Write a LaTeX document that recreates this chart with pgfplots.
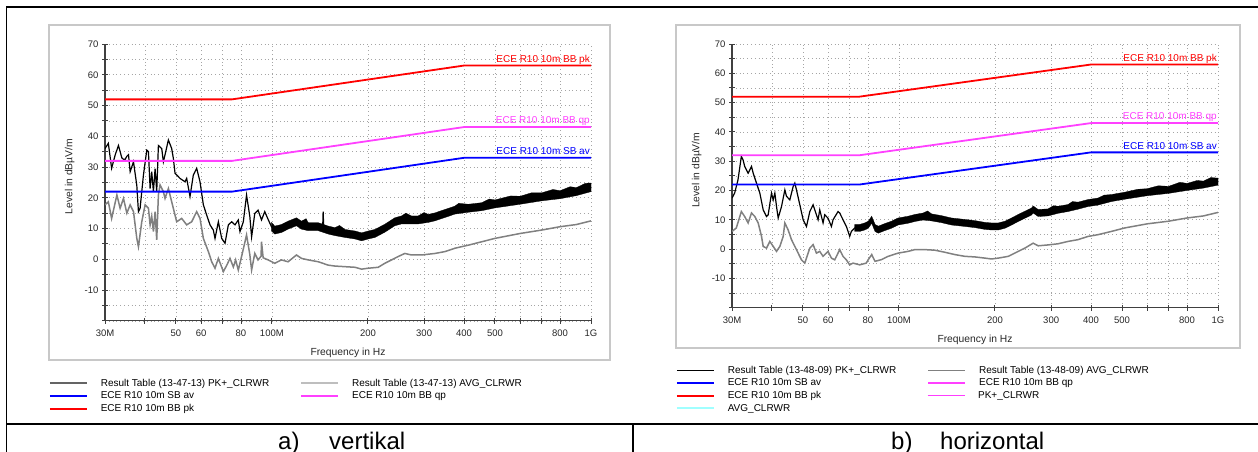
\documentclass[border=0pt]{standalone}
\usepackage{fontspec}
\setmainfont{Liberation Sans}
\usepackage{pgfplots}
\usepackage{pgfplotstable}
\pgfplotsset{compat=1.18}
\definecolor{pkred}{RGB}{255,0,0}
\definecolor{qpmag}{RGB}{255,64,255}
\definecolor{thinmag}{RGB}{255,60,255}
\definecolor{avblue}{RGB}{0,0,255}
\definecolor{trgray}{RGB}{128,128,128}
\definecolor{axgray}{RGB}{64,64,64}
\definecolor{gridgray}{RGB}{165,165,165}
\definecolor{framegray}{RGB}{200,200,200}
\definecolor{avgcyan}{RGB}{160,255,255}
\definecolor{leggrayA}{RGB}{100,100,100}
\definecolor{leggrayB}{RGB}{190,190,190}

% ---------- limit lines ----------
\pgfplotstableread{
f dB
30 52
75 52
400 63
1000 63
}\limpk
\pgfplotstableread{
f dB
30 32
75 32
400 43
1000 43
}\limqp
\pgfplotstableread{
f dB
30 22
75 22
400 33
1000 33
}\limav

% ---------- a) vertikal ----------
\pgfplotstableread{
f dB
30.0 36.0
30.73 37.7
31.47 29.6
32.3 34.0
33.06 37.0
33.87 33.0
34.28 32.5
34.70 32.5
35.12 33.5
35.54 34.0
35.97 28.5
36.85 31.7
37.74 24.0
38.19 15.5
38.65 16.6
39.59 27.4
40.55 35.5
41.04 35.0
41.54 23.0
42.03 28.5
42.54 22.0
43.06 29.5
43.57 22.0
44.10 37.0
45.17 36.0
45.71 31.7
46.26 34.0
47.39 38.8
48.54 36.0
49.12 32.8
49.72 28.0
51.54 26.3
53.44 25.2
54.08 26.3
55.40 20.4
56.74 27.4
58.13 29.6
59.54 25.2
61.00 17.7
62.48 14.4
64.00 11.2
65.56 9.5
66.35 6.8
67.97 12.2
69.63 6.8
71.32 5.2
73.05 11.2
74.83 12.2
76.64 11.2
78.50 12.8
79.45 9.0
81.38 12.2
83.30 20.9
85.30 13.9
86.40 7.3
88.40 14.9
90.50 16.0
92.80 12.8
95.00 15.5
97.30 13.0
99.70 10.6
102.1 9.5
107.1 10.0
112.4 11.1
119.4 12.2
123.8 11.1
130.0 10.6
139.7 10.6
144.3 10.6
144.8 15.5
145.3 10.6
150.2 9.5
157.6 9.0
169.4 8.4
182.2 7.9
191.1 7.3
200.4 7.9
210.3 8.4
225.9 10.1
242.8 12.2
254.8 12.8
273.8 12.8
287.4 12.8
309.2 13.3
324.4 13.8
348.6 14.9
374.7 16.0
412.7 16.6
454.4 17.1
500 18.0
600 19.2
700 20.3
800 21.0
900 22.0
1000 23.3
}\pkA
\pgfplotstableread{
f dB
99.7 12.0
102.1 10.8
107.1 11.3
112.4 12.4
119.4 13.5
123.8 12.4
128.0 13.2
130.0 11.9
139.7 11.9
150.2 10.8
157.6 10.3
163.0 11.0
169.4 9.7
182.2 9.2
191.1 8.6
200.4 9.2
210.3 9.7
225.9 11.4
242.8 13.5
254.8 14.1
263.0 15.0
273.8 14.1
287.4 14.1
300.0 15.2
309.2 14.6
324.4 15.1
348.6 16.2
374.7 17.3
385.0 18.2
412.7 17.9
454.4 18.4
480.0 19.6
500 19.3
560 20.6
600 20.5
650 21.6
700 21.6
760 22.7
800 22.3
860 23.6
900 23.3
960 24.7
1000 24.8
1000 22.0
900 20.7
800 19.7
700 19.0
600 17.9
500 16.7
454.4 15.8
412.7 15.3
374.7 14.7
348.6 13.6
324.4 12.5
309.2 12.0
287.4 11.5
273.8 11.5
254.8 11.5
242.8 10.9
225.9 8.8
210.3 7.1
200.4 6.6
191.1 6.0
182.2 6.6
169.4 7.1
157.6 7.7
150.2 8.2
139.7 9.3
130.0 9.3
123.8 9.8
119.4 10.9
112.4 9.8
107.1 8.7
102.1 8.2
99.7 9.2
}\bandA
\pgfplotstableread{
f dB
30.0 17.7
30.73 18.7
31.47 13.3
32.69 20.9
33.46 16.6
34.28 19.8
35.12 15.0
35.97 17.7
36.85 15.5
37.74 6.8
38.19 4.1
39.12 12.2
40.07 17.7
41.04 16.6
41.54 11.2
42.03 14.0
42.54 9.0
43.06 15.5
43.57 6.3
44.10 20.9
44.63 24.2
45.71 22.0
46.26 19.8
47.39 23.0
48.54 18.7
50.32 12.2
52.17 13.3
54.08 11.2
56.07 12.2
58.13 15.5
59.54 13.3
61.0 6.8
63.24 2.5
64.78 -0.8
66.35 -2.9
67.97 0.3
70.47 -4.0
72.18 -2.0
73.93 0.3
75.73 -2.5
77.0 -0.2
78.5 -3.5
80.4 1.0
83.3 7.9
85.3 1.5
86.4 -3.5
88.4 1.9
90.5 -0.2
92.5 1.0
92.8 5.7
93.9 0.5
97.3 -0.2
102.1 -1.3
107.1 -0.2
112.4 -0.8
119.4 1.4
123.8 0.3
130.0 -0.2
139.7 -0.8
150.2 -1.9
157.6 -2.2
169.4 -2.4
182.2 -2.6
191.1 -3.2
200.4 -2.9
215.4 -2.6
225.9 -1.3
237.1 -0.2
248.7 0.9
261.0 1.9
273.8 1.4
294.4 1.4
324.4 1.9
348.6 2.5
374.7 3.6
412.7 4.6
454.4 5.7
500 6.8
600 8.4
700 9.5
800 10.6
900 11.3
1000 12.5
}\avA

% ---------- b) horizontal ----------
\pgfplotstableread{
f dB
30.0 17.4
30.58 19.1
31.32 23.6
32.09 31.6
32.48 30.5
32.87 28.2
33.70 25.9
34.11 27.0
34.53 28.2
34.95 25.9
35.80 22.5
36.67 19.1
37.57 13.4
38.48 11.1
38.95 11.7
39.90 19.1
40.38 16.8
40.87 19.1
41.36 14.5
41.86 10.6
42.88 14.5
43.92 20.2
44.45 18.0
45.53 16.8
46.64 21.4
47.20 22.5
47.77 20.2
48.93 15.1
50.12 10.0
51.34 7.7
52.59 12.8
53.86 15.1
54.51 13.4
55.83 10.0
56.50 13.4
57.87 8.9
58.57 11.7
60.0 10.5
61.46 7.7
62.20 10.0
64.48 12.8
65.26 12.3
66.84 10.0
68.47 7.7
70.13 4.3
70.98 6.0
72.70 7.2
75.36 7.2
78.12 7.7
80.2 8.3
82.2 10.0
84.2 7.2
86.2 6.6
90.4 7.5
94.8 8.3
99.4 9.4
106.9 10.0
112.2 10.6
119.1 11.1
126.6 10.8
136.0 10.2
146.2 9.4
161.1 8.9
173.2 8.5
186.0 7.9
195.2 7.7
204.8 7.7
215.0 8.3
225.5 9.4
236.6 10.6
248.1 11.7
260.4 12.8
263.5 13.5
273.2 12.3
293.4 12.5
315.6 13.4
339.0 14.0
364.2 14.8
391.4 15.7
420.5 16.2
463.0 17.4
510 18.2
600 19.4
700 20.2
800 21.2
900 22.0
1000 23.0
}\pkB
\pgfplotstableread{
f dB
72.70 8.4
75.36 8.4
78.12 8.9
80.2 9.5
82.2 11.2
84.2 8.4
86.2 7.8
90.4 8.7
94.8 9.5
99.4 10.6
106.9 11.2
112.2 11.8
119.1 12.3
123.0 13.0
126.6 12.0
136.0 11.4
146.2 10.6
161.1 10.1
173.2 9.7
186.0 9.1
195.2 8.9
204.8 8.9
215.0 9.5
225.5 10.6
236.6 11.8
248.1 12.9
260.4 14.0
263.5 14.7
273.2 13.5
293.4 13.7
305.0 14.8
315.6 14.6
339.0 15.2
350.0 16.2
364.2 16.0
391.4 16.9
420.5 17.4
440.0 18.4
463.0 18.6
510 19.4
560 20.4
600 20.6
650 21.6
700 21.4
760 22.8
800 22.4
860 23.4
900 23.2
950 24.4
1000 24.2
1000 21.8
900 20.8
800 20.0
700 19.0
600 18.2
510 17.0
463.0 16.2
420.5 15.0
391.4 14.5
364.2 13.6
339.0 12.8
315.6 12.2
293.4 11.3
273.2 11.1
263.5 12.3
260.4 11.6
248.1 10.5
236.6 9.4
225.5 8.2
215.0 7.1
204.8 6.5
195.2 6.5
186.0 6.7
173.2 7.3
161.1 7.7
146.2 8.2
136.0 9.0
126.6 9.6
119.1 9.9
112.2 9.4
106.9 8.8
99.4 8.2
94.8 7.1
90.4 6.3
86.2 5.4
84.2 6.0
82.2 8.8
80.2 7.1
78.12 6.5
75.36 6.0
72.70 6.0
}\bandB
\pgfplotstableread{
f dB
30.0 6.0
30.95 7.2
32.09 12.8
32.87 11.1
33.70 8.9
34.53 12.3
35.37 11.1
36.24 8.9
37.12 4.3
37.57 0.9
38.48 0.3
39.42 2.6
40.38 0.9
41.36 -0.8
42.37 0.9
43.40 4.3
43.92 8.9
44.99 6.5
46.08 3.2
47.20 0.9
48.35 -1.4
49.52 -3.7
50.73 -4.8
52.59 0.3
53.86 1.5
55.17 -1.4
56.50 -0.8
57.87 -2.5
60.0 -0.8
61.46 -3.1
62.95 -3.7
65.26 -0.2
66.84 -2.5
68.47 -3.7
70.13 -5.4
71.83 -4.8
75.36 -5.4
79.06 -4.8
80.2 -3.6
82.2 -1.9
84.2 -4.2
88.3 -3.6
92.5 -2.5
99.4 -1.4
106.9 -0.8
112.2 -0.2
120.6 -0.2
129.7 -0.4
139.3 -1.1
149.8 -1.9
161.1 -2.5
173.2 -2.7
186.0 -3.1
195.2 -3.4
204.8 -3.1
220.2 -2.5
236.6 -0.8
248.1 0.3
263.5 2.0
273.2 1.1
293.4 1.4
315.6 1.8
339.0 2.6
364.2 3.2
391.4 4.3
420.5 4.9
463.0 6.0
510 7.2
600 8.6
700 9.5
800 10.6
900 11.3
1000 12.5
}\avB

\tikzset{
  limlab/.style={anchor=south east, inner sep=1pt, text height=7.5pt, text depth=2pt,
    font=\fontsize{10}{11}\selectfont},
}
\pgfplotsset{
  legbase/.style={
    legend cell align=left,
    legend image code/.code={\draw[##1] (0pt,0pt) -- (37pt,0pt);},
    legend style={anchor=north west, draw=none, fill=none, inner sep=0pt, outer sep=0pt,
      font=\fontsize{10}{11}\selectfont, row sep=3.2pt,
      nodes={inner sep=0pt, text height=7.5pt, text depth=2pt},
      /tikz/every odd column/.append style={column sep=13pt},
      /tikz/every even column/.append style={column sep=31pt}},
  },
  emc/.style={
    scale only axis, width=486pt,
    xmin=30, xmax=1000, ymin=-20, ymax=70,
    axis lines=left,
    axis line style={-, draw=axgray, line width=1.1pt},
    xtick={30,40,50,60,70,80,100,200,300,400,500,600,700,800,1000},
    xticklabels={30M,,50,60,,80,100M,200,300,400,500,,,800,1G},
    minor xtick={},
    ytick={-20,-10,0,10,20,30,40,50,60,70},
    yticklabels={,-10,0,10,20,30,40,50,60,70},
    minor ytick={-15,-5,5,15,25,35,45,55,65},
    tick align=center, major tick length=6pt, minor tick length=6pt,
    every tick/.style={draw=axgray, line width=0.9pt},
    grid=both,
    major grid style={draw=gridgray, line width=0.6pt, dash pattern=on 0.8pt off 3pt},
    minor grid style={draw=gridgray, line width=0.6pt, dash pattern=on 0.8pt off 3pt},
    tick label style={font=\fontsize{9.5}{10}\selectfont, text=black!85},
    xticklabel style={yshift=-3pt},
    xlabel={Frequency in Hz},
    ylabel={Level in dBµV/m},
    label style={font=\fontsize{10.3}{12}\selectfont, text=black!85},
    xlabel style={at={(rel axis cs:0.5,0)}, anchor=center, yshift=-32pt},
    ylabel style={at={(rel axis cs:0,0.521)}, anchor=south, yshift=27pt},
    legend columns=2,
    legbase,
  },
  hiddenleg/.style={hide axis, scale only axis, width=486pt, height=263.6pt,
    xmin=0, xmax=1, ymin=0, ymax=1, legbase, legend columns=1},
}

\begin{document}
\begin{tikzpicture}
\useasboundingbox (0pt,0pt) rectangle (1258pt,-452pt);
% table frame
\draw[line width=1.5pt] (6pt,-7pt) -- (1258pt,-7pt);
\draw[line width=1.5pt] (6.5pt,-7pt) -- (6.5pt,-452pt);
\draw[line width=1.3pt] (6pt,-424pt) -- (1258pt,-424pt);
\draw[line width=1.3pt] (633pt,-424pt) -- (633pt,-452pt);
% chart frames
\draw[framegray, line width=1.5pt] (49pt,-25pt) rectangle (610pt,-360pt);
\draw[framegray, line width=1.5pt] (676pt,-25pt) rectangle (1240pt,-348pt);

% ---------------- a) vertikal ----------------
\begin{axis}[xmode=log, emc, height=276.8pt, at={(105pt,-320.8pt)}, anchor=south west,
  legend style={at={(-0.1152,-0.2085)}}]
\addplot[trgray, line width=1.5pt, forget plot] table[x=f,y=dB] {\avA};
\addplot[black, line width=1.2pt, forget plot] table[x=f,y=dB] {\pkA};
\addplot[black, fill=black, line width=0.3pt, forget plot] table[x=f,y=dB] {\bandA} -- cycle;
\addplot[avblue, line width=1.8pt, forget plot] table[x=f,y=dB] {\limav};
\addplot[qpmag, line width=1.8pt, forget plot] table[x=f,y=dB] {\limqp};
\addplot[pkred, line width=1.8pt, forget plot] table[x=f,y=dB] {\limpk};
\node[limlab, text=pkred] at (axis cs:1000,63) {ECE R10 10m BB pk};
\node[limlab, text=qpmag] at (axis cs:1000,43) {ECE R10 10m BB qp};
\node[limlab, text=avblue] at (axis cs:1000,33) {ECE R10 10m SB av};
\addlegendimage{leggrayA, line width=1.8pt}
\addlegendentry{Result Table (13-47-13) PK+\_CLRWR}
\addlegendimage{leggrayB, line width=1.8pt}
\addlegendentry{Result Table (13-47-13) AVG\_CLRWR}
\addlegendimage{avblue, line width=1.8pt}
\addlegendentry{ECE R10 10m SB av}
\addlegendimage{qpmag, line width=1.8pt}
\addlegendentry{ECE R10 10m BB qp}
\addlegendimage{pkred, line width=1.8pt}
\addlegendentry{ECE R10 10m BB pk}
\end{axis}

% ---------------- b) horizontal ----------------
\begin{axis}[xmode=log, emc, height=263.6pt, at={(732pt,-307.6pt)}, anchor=south west,
  legend style={at={(-0.1152,-0.2197)}}]
\addplot[trgray, line width=1.5pt, forget plot] table[x=f,y=dB] {\avB};
\addplot[black, line width=1.2pt, forget plot] table[x=f,y=dB] {\pkB};
\addplot[black, fill=black, line width=0.3pt, forget plot] table[x=f,y=dB] {\bandB} -- cycle;
\addplot[avblue, line width=1.8pt, forget plot] table[x=f,y=dB] {\limav};
\addplot[qpmag, line width=1.8pt, forget plot] table[x=f,y=dB] {\limqp};
\addplot[pkred, line width=1.8pt, forget plot] table[x=f,y=dB] {\limpk};
\node[limlab, text=pkred] at (axis cs:1000,63) {ECE R10 10m BB pk};
\node[limlab, text=qpmag] at (axis cs:1000,43) {ECE R10 10m BB qp};
\node[limlab, text=avblue] at (axis cs:1000,33) {ECE R10 10m SB av};
\addlegendimage{black, line width=0.9pt}
\addlegendentry{Result Table (13-48-09) PK+\_CLRWR}
\addlegendimage{trgray, line width=0.9pt}
\addlegendentry{Result Table (13-48-09) AVG\_CLRWR}
\addlegendimage{avblue, line width=1.8pt}
\addlegendentry{ECE R10 10m SB av}
\addlegendimage{qpmag, line width=1.8pt}
\addlegendentry{ECE R10 10m BB qp}
\addlegendimage{pkred, line width=1.8pt}
\addlegendentry{ECE R10 10m BB pk}
\end{axis}

% extra legend rows of b), in their own (hidden) axes
\begin{axis}[hiddenleg, at={(732pt,-307.6pt)}, anchor=south west,
  legend style={at={(0.4012,-0.3160)}}]
\addlegendimage{thinmag, line width=1.1pt}
\addlegendentry{PK+\_CLRWR}
\end{axis}
\begin{axis}[hiddenleg, at={(732pt,-307.6pt)}, anchor=south west,
  legend style={at={(-0.1152,-0.3642)}}]
\addlegendimage{avgcyan, line width=1.8pt}
\addlegendentry{AVG\_CLRWR}
\end{axis}

% captions
\node[anchor=base west, inner sep=0pt, font=\fontsize{24}{27}\selectfont] at (278pt,-449pt) {a)};
\node[anchor=base west, inner sep=0pt, font=\fontsize{24}{27}\selectfont] at (329pt,-449pt) {vertikal};
\node[anchor=base west, inner sep=0pt, font=\fontsize{24}{27}\selectfont] at (891pt,-449pt) {b)};
\node[anchor=base west, inner sep=0pt, font=\fontsize{24}{27}\selectfont] at (940pt,-449pt) {horizontal};
\end{tikzpicture}
\end{document}
